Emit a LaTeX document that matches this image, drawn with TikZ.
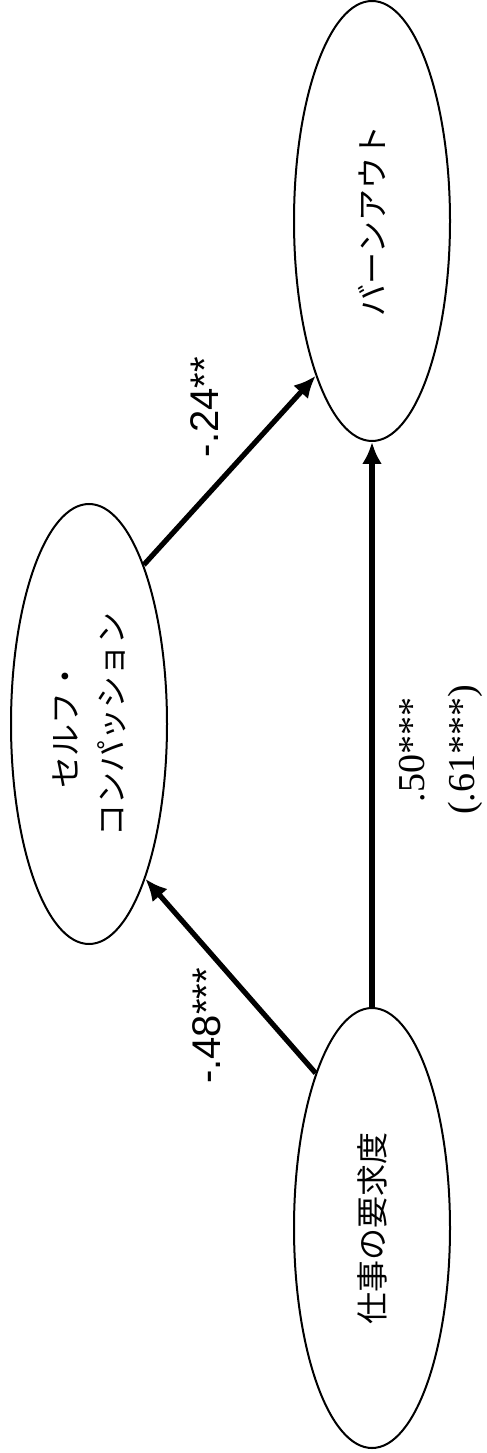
\documentclass[tikz,border=0pt]{standalone}
\usepackage{fontspec}
\setmainfont{Liberation Serif}
\newfontfamily\jpfont{Noto Sans CJK JP}
\newfontfamily\arialfont{Liberation Sans}
\usetikzlibrary{arrows.meta,shapes.geometric}

\begin{document}
\begin{tikzpicture}[x=.25pt,y=-.25pt,>={Latex[length=5.5pt,width=5pt]},
    latent/.style={draw,ellipse,line width=.5pt,rotate=90,minimum width=110pt,minimum height=39pt,
      inner sep=0pt,align=center,font=\jpfont\fontsize{8}{11.5}\selectfont},
    effect/.style={->,line width=1.3pt},
    coef/.style={rotate=90,align=center,font=\arialfont\fontsize{10}{12}\selectfont}]
  \useasboundingbox (0,0) rectangle (486,1453);
  % latent variables
  \node[latent] (burn) at (372,221) {バーンアウト};
  \node[latent] (self) at (89,724) {セルフ・\\コンパッション};
  \node[latent] (demand) at (372,1228) {仕事の要求度};
  % paths
  \draw[effect] (demand.20) -- (self.200);
  \draw[effect] (self.-19) -- (burn.160);
  \draw[effect] (demand.0) -- (burn.180);
  % coefficients
  \node[coef] (c48) at (207,1026) {-.48***};
  \node[coef] (c24) at (205,407) {-.24**};
  \node[coef,font=\fontsize{9.5}{12.5}\selectfont] (c50) at (441,750) {.50***\\(.61***)};
\end{tikzpicture}
\end{document}
